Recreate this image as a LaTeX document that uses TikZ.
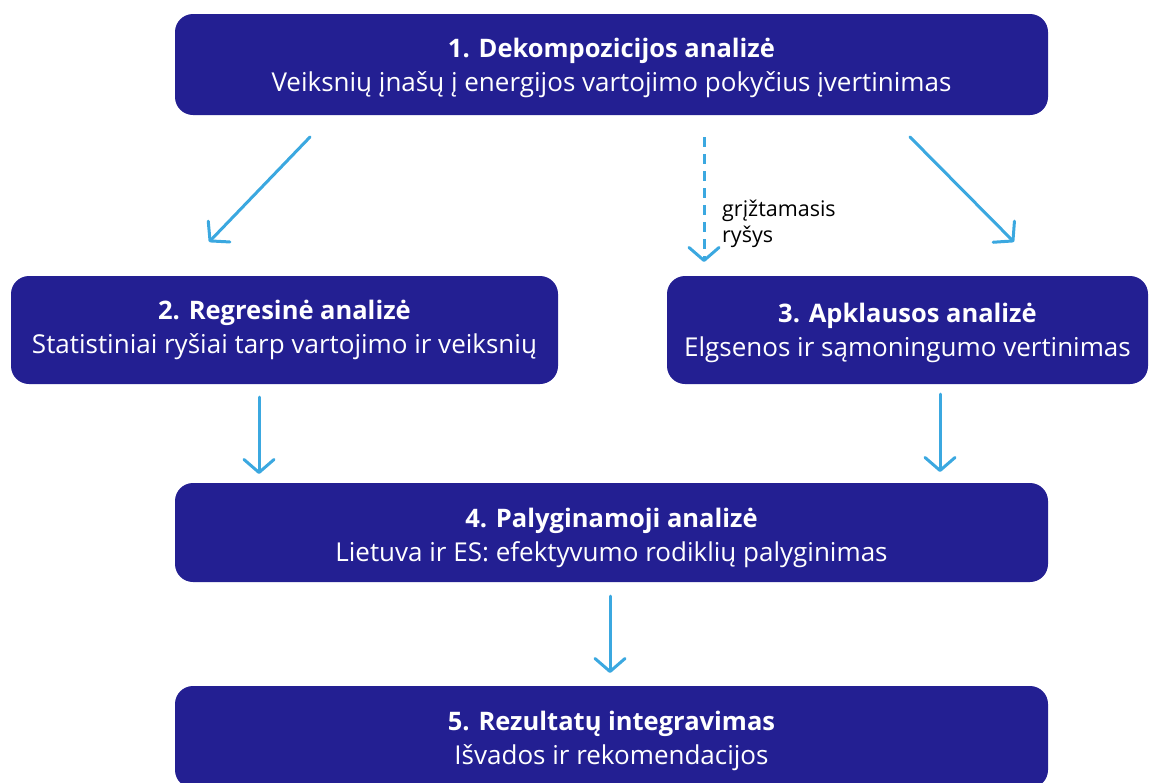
\documentclass[tikz,border=0pt]{standalone}
\usepackage{fontspec}
\setmainfont{Open Sans}
\usetikzlibrary{arrows.meta,calc}
\definecolor{boxblue}{HTML}{231F92}
\definecolor{arrowblue}{HTML}{3BA8E0}
\tikzset{
  stepbox/.style={draw=none, fill=boxblue, rounded corners=18pt, inner sep=0pt},
  steptext/.style={text=white, align=center, inner sep=0pt, font=\fontsize{26}{34}\selectfont},
  flow/.style={draw=arrowblue, line width=3pt, line cap=round,
    -{Straight Barb[length=13pt,width=30pt,round]}},
  lbl/.style={font=\fontsize{21.5}{26}\selectfont, align=left, anchor=west, inner sep=0pt}
}
\newcommand{\steptitle}[1]{{\fontsize{25.5}{34}\selectfont\textbf{#1}}}
\begin{document}
\begin{tikzpicture}[x=1pt,y=-1pt]
\useasboundingbox (0,0) rectangle (1156,782);
\node[stepbox, minimum width=873pt, minimum height=101pt] (b1) at (611.5,64.5) {};
\node[stepbox, minimum width=547pt, minimum height=108pt] (b2) at (284.5,330) {};
\node[stepbox, minimum width=481pt, minimum height=108pt] (b3) at (907.5,330) {};
\node[stepbox, minimum width=873pt, minimum height=99pt] (b4) at (611.5,532.5) {};
\node[stepbox, minimum width=873pt, minimum height=102pt] (b5) at (611.5,737) {};

\node[steptext] (t1) at ($(b1.center)+(0,3)$)
  {\steptitle{1. Dekompozicijos analizė}\\Veiksnių įnašų į energijos vartojimo pokyčius įvertinimas};
\node[steptext] (t2) at ($(b2.center)+(0,0)$)
  {\steptitle{2. Regresinė analizė}\\Statistiniai ryšiai tarp vartojimo ir veiksnių};
\node[steptext] (t3) at ($(b3.center)+(0,2.5)$)
  {\steptitle{3. Apklausos analizė}\\Elgsenos ir sąmoningumo vertinimas};
\node[steptext] (t4) at ($(b4.center)+(0,5.5)$)
  {\steptitle{4. Palyginamoji analizė}\\Lietuva ir ES: efektyvumo rodiklių palyginimas};
\node[steptext] (t5) at ($(b5.center)+(0,4)$)
  {\steptitle{5. Rezultatų integravimas}\\Išvados ir rekomendacijos};

\coordinate (a1s) at (310,137);
\coordinate (a1e) at (209,242);
\coordinate (a2s) at (704,137);
\coordinate (a2e) at (704,262);
\coordinate (a3s) at (910,137);
\coordinate (a3e) at (1014,242);
\coordinate (a4s) at (259,397);
\coordinate (a4e) at (259,474);
\coordinate (a5s) at (940,394);
\coordinate (a5e) at (940,472);
\coordinate (a6s) at (610,596);
\coordinate (a6e) at (610,673);

\draw[flow] (a1s) -- (a1e);
\draw[flow, line cap=butt, dash pattern=on 10pt off 7pt] (a2s) -- (a2e);
\draw[flow] (a3s) -- (a3e);
\draw[flow] (a4s) -- (a4e);
\draw[flow] (a5s) -- (a5e);
\draw[flow] (a6s) -- (a6e);

\node[lbl] (fb) at (722,223.5) {grįžtamasis\\ryšys};
\end{tikzpicture}
\end{document}
